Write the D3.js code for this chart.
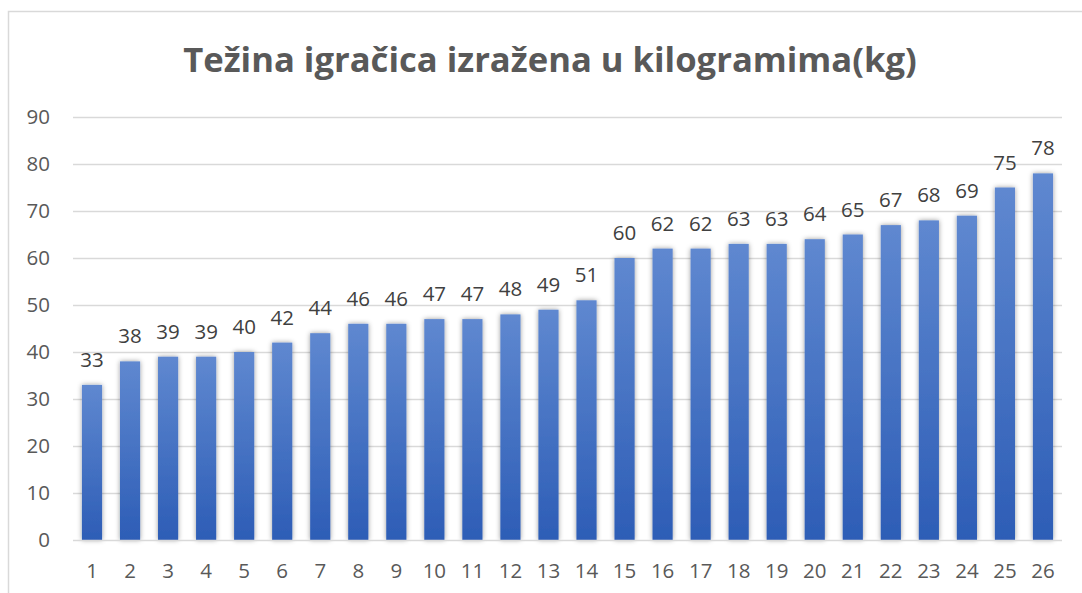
<!DOCTYPE html>
<html>
<head>
<meta charset="utf-8">
<script src="https://cdn.jsdelivr.net/npm/d3@7"></script>
<style>
  html, body { margin: 0; padding: 0; background: #fff; }
  svg { display: block; font-family: "Open Sans", "Noto Sans", sans-serif; }
</style>
</head>
<body>
<svg id="chart" width="1082" height="593"></svg>
<script>
const titleText = 'Težina igračica izražena u kilogramima(kg)';
const categories = d3.range(1, 27).map(String);
const weights = [33, 38, 39, 39, 40, 42, 44, 46, 46, 47, 47, 48, 49, 51, 60, 62, 62, 63, 63, 64, 65, 67, 68, 69, 75, 78];
const yTicks = [0, 10, 20, 30, 40, 50, 60, 70, 80, 90];

const width = 1082, height = 593;
const plot = {left: 73, right: 1062, top: 117, bottom: 540};
const labelSize = 20.5;

const svg = d3.select('#chart');

const defs = svg.append('defs');
const grad = defs.append('linearGradient')
  .attr('id', 'barFill').attr('x1', 0).attr('y1', 0).attr('x2', 0).attr('y2', 1);
grad.append('stop').attr('offset', '0%').attr('stop-color', '#5f88d0');
grad.append('stop').attr('offset', '100%').attr('stop-color', '#2d5db6');

const shadow = defs.append('filter').attr('id', 'shadow')
  .attr('x', '-50%').attr('y', '-10%').attr('width', '200%').attr('height', '120%');
shadow.append('feDropShadow')
  .attr('dx', 0).attr('dy', 0).attr('stdDeviation', 2.5)
  .attr('flood-color', '#000').attr('flood-opacity', 0.4);

// chart border
svg.append('rect')
  .attr('x', 8.5).attr('y', 11.5)
  .attr('width', width + 20).attr('height', height + 20)
  .attr('fill', '#fff').attr('stroke', '#d9d9d9').attr('stroke-width', 1.5);

const x = d3.scaleBand().domain(categories).range([plot.left, plot.right]).paddingInner(0.47).paddingOuter(0.235);
const y = d3.scaleLinear().domain([0, 90]).range([plot.bottom, plot.top]);

// gridlines
svg.append('g')
  .selectAll('line')
  .data(yTicks.filter(d => d > 0))
  .join('line')
  .attr('x1', plot.left).attr('x2', plot.right)
  .attr('y1', d => Math.round(y(d)) + 0.5).attr('y2', d => Math.round(y(d)) + 0.5)
  .attr('stroke', '#d9d9d9').attr('stroke-width', 1.3);

// bars
svg.append('g')
  .selectAll('rect')
  .data(weights)
  .join('rect')
  .attr('x', (d, i) => x(categories[i]))
  .attr('y', d => y(d))
  .attr('width', x.bandwidth())
  .attr('height', d => y(0) - y(d))
  .attr('fill', 'url(#barFill)')
  .attr('filter', 'url(#shadow)');

// baseline
svg.append('line')
  .attr('x1', plot.left).attr('x2', plot.right)
  .attr('y1', y(0) + 0.5).attr('y2', y(0) + 0.5)
  .attr('stroke', '#d9d9d9').attr('stroke-width', 1.5);

// y axis labels
const yAxis = svg.append('g')
  .attr('transform', `translate(${plot.left - 23},0)`)
  .call(d3.axisLeft(y).tickValues(yTicks).tickSize(0).tickPadding(0));
yAxis.select('.domain').remove();
yAxis.selectAll('text')
  .style('font-size', labelSize + 'px').attr('fill', '#595959')
  .style('font-family', '"Open Sans", sans-serif');

// x axis labels
const xAxis = svg.append('g')
  .attr('transform', `translate(0,${plot.bottom})`)
  .call(d3.axisBottom(x).tickSize(0).tickPadding(23));
xAxis.select('.domain').remove();
xAxis.selectAll('text')
  .style('font-size', labelSize + 'px').attr('fill', '#595959')
  .style('font-family', '"Open Sans", sans-serif');

// data labels
svg.append('g')
  .selectAll('text')
  .data(weights)
  .join('text')
  .attr('x', (d, i) => x(categories[i]) + x.bandwidth() / 2)
  .attr('y', d => y(d) - 18)
  .attr('text-anchor', 'middle')
  .style('font-size', labelSize + 'px')
  .attr('fill', '#404040')
  .text(d => d);

// title
const title = svg.append('text')
  .attr('x', 550).attr('y', 72)
  .attr('text-anchor', 'middle')
  .attr('font-size', 31)
  .attr('font-weight', 700)
  .attr('fill', '#595959')
  .text(titleText);
const tw = title.node().getComputedTextLength();
title.attr('font-size', 31 * 734 / tw);
</script>
</body>
</html>
